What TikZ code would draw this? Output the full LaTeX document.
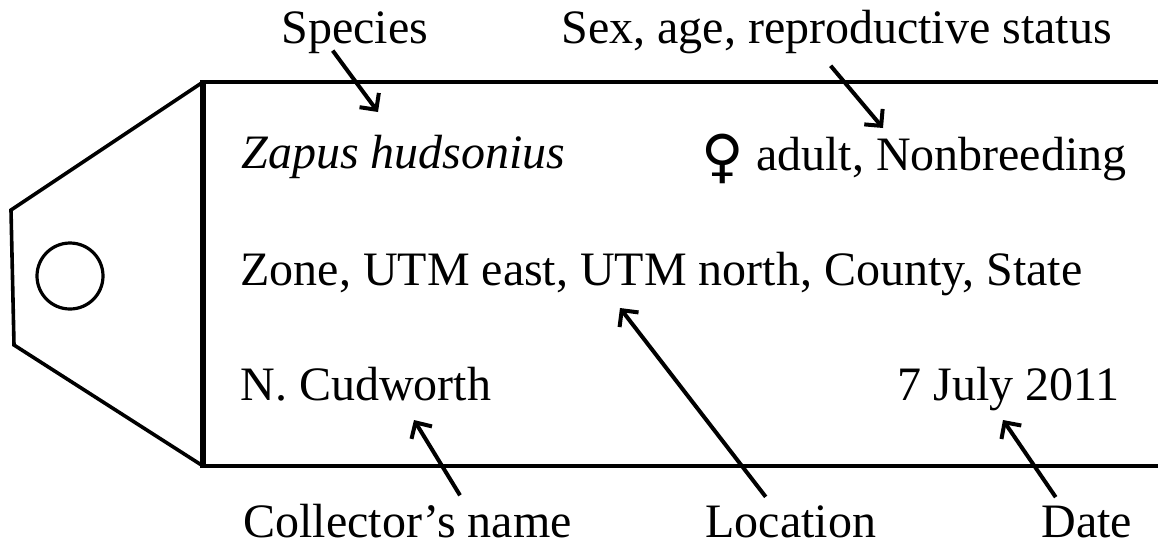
\documentclass[tikz,border=0pt]{standalone}
\usepackage{fontspec}
\setmainfont{Liberation Serif}
\newfontfamily\symfont{DejaVu Sans}
\usetikzlibrary{arrows.meta}

\begin{document}
\begin{tikzpicture}[
  x=0.5pt, y=-0.5pt,
  tagline/.style={line width=1.8pt, line join=miter},
  txt/.style={inner sep=0pt, font=\fontsize{24}{28}\selectfont},
  arr/.style={-{Straight Barb[length=6pt, width=12pt]}, line width=2pt},
]
\useasboundingbox (0,0) rectangle (1158,548);

% === Tag outline ===
\draw[tagline] (1158,82) -- (203,82) -- (11,210) -- (14,345) -- (203,466) -- (1158,466);
\draw[line width=2.6pt] (203,80) -- (203,468);
\node[draw, circle, line width=1.6pt, minimum size=33pt, inner sep=0pt] (hole) at (70,276) {};

% === Text on the tag ===
\node[txt, anchor=base west] (name) at (241,168) {\itshape Zapus hudsonius};
\node[txt, anchor=base east] (sexage) at (1127,170)
  {\raisebox{-3pt}{\symfont\fontsize{29}{30}\selectfont ♀} adult, Nonbreeding};
\node[txt, anchor=base west] (loc) at (240,285) {Zone, UTM east, UTM north, County, State};
\node[txt, anchor=base west] (coll) at (240,400) {N. Cudworth};
\node[txt, anchor=base east] (date) at (1120,400) {7 July 2011};

% === Labels (top) ===
\node[txt, anchor=base west] (species) at (281,43) {Species};
\node[txt, anchor=base west] (status) at (561,43) {Sex, age, reproductive status};

% === Labels (bottom) ===
\node[txt, anchor=base west] (collLbl) at (243,537) {Collector’s name};
\node[txt, anchor=base west] (locLbl) at (705,537) {Location};
\node[txt, anchor=base west] (dateLbl) at (1041,537) {Date};

% arrow tips
\coordinate (spTip) at (378,112);
\coordinate (stTip) at (883,128);
\coordinate (coTip) at (414,420);
\coordinate (loTip) at (620,308);
\coordinate (daTip) at (1003,420);

\draw[arr] ([shift={(-22,-3)}]species.south) -- (spTip);
\draw[arr] ([shift={(-6,12)}]status.south) -- (stTip);
\draw[arr] ([shift={(217,-8)}]collLbl.north west) -- (coTip);
\draw[arr] ([shift={(-25,-8)}]locLbl.north) -- (loTip);
\draw[arr] ([shift={(-31,-8)}]dateLbl.north) -- (daTip);

\end{tikzpicture}
\end{document}
